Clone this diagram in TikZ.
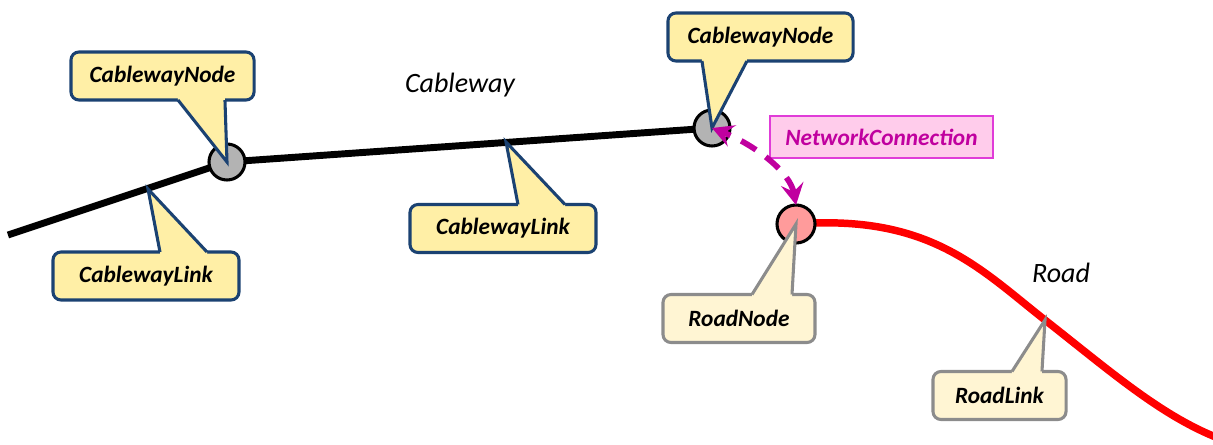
\documentclass[tikz,border=0pt]{standalone}
\usepackage{fontspec}
\setmainfont{Carlito}
\usetikzlibrary{calc,arrows.meta,backgrounds}
\definecolor{callfill}{HTML}{FFEFA6}
\definecolor{calledge}{HTML}{1B4272}
\definecolor{roadfill}{HTML}{FFF5D3}
\definecolor{roadedge}{HTML}{8C8C8C}
\definecolor{nodegray}{HTML}{B3B3B3}
\definecolor{roadpink}{HTML}{FF9B9B}
\definecolor{ncfill}{HTML}{FFCCEB}
\definecolor{ncedge}{HTML}{E03CD8}
\definecolor{nctext}{HTML}{C0009F}
\tikzset{
  netnode/.style={circle, inner sep=0pt, outer sep=0pt, draw=black, line width=2.3pt},
  cwnode/.style={netnode, fill=nodegray, minimum size=27pt},
  rdnode/.style={netnode, fill=roadpink, minimum size=28.5pt},
  callbox/.style={rounded corners=6pt, inner sep=0pt, outer sep=0pt, line width=2.3pt,
    minimum height=36pt, font=\fontsize{17.5}{20}\selectfont\bfseries\itshape},
  cwcall/.style={callbox, draw=calledge, fill=callfill},
  rdcall/.style={callbox, draw=roadedge, fill=roadfill},
  cwtail/.style={draw=calledge, fill=callfill, line width=2.3pt},
  rdtail/.style={draw=roadedge, fill=roadfill, line width=2.3pt},
  netname/.style={anchor=base, font=\fontsize{21}{25}\selectfont\itshape}}
% tail of a callout: style, box, corner, left dx, right dx, tip, shift into box
\newcommand{\calltail}[7]{%
  \path ($(#2.#3)+(#4,0)$) coordinate (tl) ($(#2.#3)+(#5,0)$) coordinate (tr);
  \fill[#1,draw=none] ($(tl)+(0,#7)$) -- (tl) -- #6 -- (tr) -- ($(tr)+(0,#7)$) -- cycle;
  \draw[#1,fill=none] (tl) -- #6 -- (tr);}

\begin{document}
\begin{tikzpicture}[x=0.75pt, y=-0.75pt]
\useasboundingbox (0,0) rectangle (1213,444);

% network nodes
\node[cwnode] (cwA) at (227,162) {};
\node[cwnode] (cwB) at (712,128) {};
\node[rdnode] (rdA) at (796,224) {};

\coordinate (cwEnd) at (8,235);
\coordinate (rdEnd) at (1218,438);
\coordinate (cwLinkA) at (148,189);
\coordinate (cwLinkB) at (506,142);
\coordinate (rdLink) at (1045,320);

% links
\begin{scope}[on background layer]
\draw[line width=5.2pt] (cwEnd) -- (cwA.center) -- (cwB.center);
\draw[red, line width=5.6pt] (rdA.center) .. controls (930,214) and (980,269) .. (rdLink)
  .. controls (1110,371) and (1160,415) .. (rdEnd);
\end{scope}

\node[netname] (cwName) at (460,92) {Cableway};
\node[netname] (rdName) at (1061,282) {Road};

% callouts
\node[cwcall, minimum width=137.3pt] (cnA) at (162.5,76) {CablewayNode};
\calltail{cwtail}{cnA}{south west}{107}{154}{(cwA.center)}{-5}

\node[cwcall, minimum width=138.8pt] (cnB) at (760.5,37) {CablewayNode};
\calltail{cwtail}{cnB}{south west}{34}{79}{(cwB.center)}{-5}

\node[cwcall, minimum width=139.5pt] (clA) at (146,276) {CablewayLink};
\calltail{cwtail}{clA}{north west}{107}{154}{(cwLinkA)}{5}

\node[cwcall, minimum width=139.5pt] (clB) at (503,228.5) {CablewayLink};
\calltail{cwtail}{clB}{north west}{108}{155}{(cwLinkB)}{5}

\node[rdcall, minimum width=114pt] (rnA) at (739,318.5) {RoadNode};
\calltail{rdtail}{rnA}{north west}{89}{129}{(rdA.center)}{5}

\node[rdcall, minimum width=99.8pt] (rlA) at (999.5,395.5) {RoadLink};
\calltail{rdtail}{rlA}{north west}{79}{109}{(rdLink)}{5}

% connection between the networks
\node[fill=ncfill, draw=ncedge, line width=1.2pt, minimum width=167.3pt, minimum height=31.5pt,
  inner sep=0pt, text=nctext, font=\fontsize{17.5}{20}\selectfont\bfseries\itshape] (nc) at (881.5,137) {NetworkConnection};
\draw[nctext, line width=4.3pt, dash pattern=on 13pt off 9pt,
  {Stealth[length=16pt,width=17pt,inset=6pt]}-{Stealth[length=16pt,width=17pt,inset=6pt]}]
  (rdA.north) .. controls (790,172) and (755,145) .. (cwB.center);

\end{tikzpicture}
\end{document}
